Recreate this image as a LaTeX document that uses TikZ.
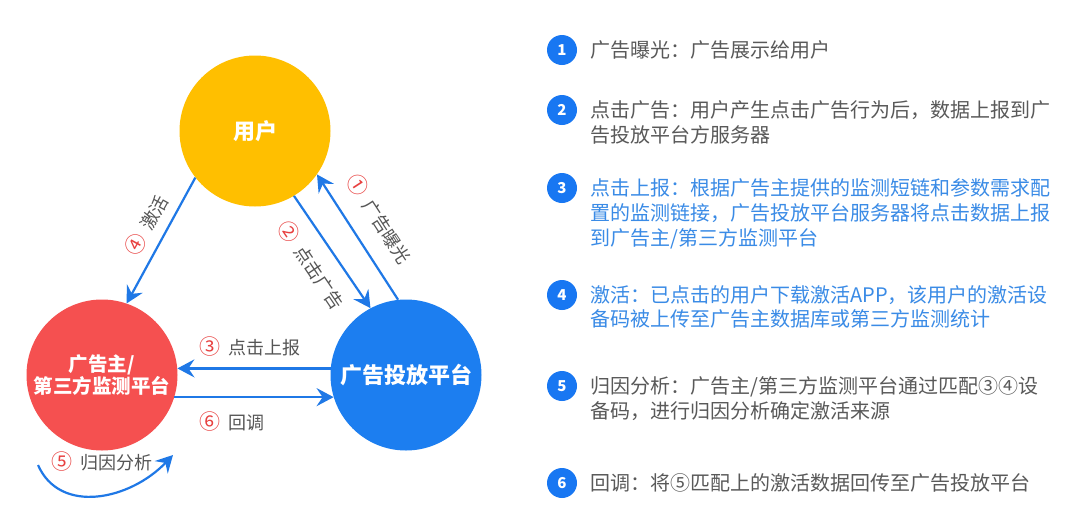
\documentclass[tikz,border=0pt]{standalone}
\usepackage{fontspec}
\setmainfont{Noto Sans CJK SC}
\usetikzlibrary{arrows.meta}
\definecolor{userc}{HTML}{FFBF00}
\definecolor{redc}{HTML}{F55050}
\definecolor{bluec}{HTML}{1C7EF0}
\definecolor{arrowc}{HTML}{1F78E6}
\definecolor{numred}{HTML}{E8403F}
\definecolor{labelgray}{HTML}{555555}
\definecolor{textgray}{HTML}{595959}
\definecolor{textblue}{HTML}{3A8BE6}
\definecolor{badgec}{HTML}{1877F2}
\newcommand{\cnum}[1]{{\color{numred}\fontsize{21}{20}\selectfont #1}}
\begin{document}
\begin{tikzpicture}[x=1pt,y=-1pt,
  circ/.style={circle, minimum size=151pt, inner sep=0pt, text=white, align=center},
  arr/.style={draw=arrowc, line width=2.2pt, -{Stealth[length=17pt,width=18pt,inset=6pt]}},
  lbl/.style={text=labelgray, font=\fontsize{18}{20}\selectfont, inner sep=0pt, text height=15pt, text depth=3pt},
  badge/.style={circle, fill=badgec, minimum size=30pt, inner sep=0pt, text=white, font=\fontsize{15}{15}\selectfont\bfseries},
  itemline/.style={anchor=west, inner sep=0pt, font=\fontsize{20}{24}\selectfont, text height=17pt, text depth=3pt},
  graytext/.style={itemline, text=textgray},
  bluetext/.style={itemline, text=textblue},
]
\useasboundingbox[fill=white] (0,0) rectangle (1080,512);

% main nodes
\node[circ, fill=userc, font=\fontsize{22}{26}\selectfont\bfseries] (user) at (255,131) {用户};
\node[circ, fill=redc, font=\fontsize{19.5}{21.5}\selectfont\bfseries] (adv) at (102,375) {广告主/\\第三方监测平台};
\node[circ, fill=bluec, font=\fontsize{22}{26}\selectfont\bfseries] (plat) at (406,375) {广告投放平台};

% connectors
\draw[arr] (user.218) -- (adv.71);
\draw[arr] (user.301) -- (plat.118);
\draw[arr] (plat.96) -- (user.325);
\draw[arr] (plat.175) -- (adv.5);
\draw[arr] (adv.-17) -- (plat.197);
\coordinate (loopA) at (38,465);
\coordinate (loopB) at (173,455);
\draw[arr] (loopA) .. controls (60,515) and (130,500) .. (loopB);

% connector labels
\node[lbl, rotate=61] (l4) at (148,226) {\cnum{④}\hspace{8pt}激活};
\node[lbl, rotate=-56] (l2) at (310,266) {\cnum{②}\hspace{8pt}点击广告};
\node[lbl, rotate=-57] (l1) at (378,220) {\cnum{①}\hspace{8pt}广告曝光};
\node[lbl, anchor=west] (l3) at (199,348) {\cnum{③}\hspace{8pt}点击上报};
\node[lbl, anchor=west] (l6) at (199,423) {\cnum{⑥}\hspace{8pt}回调};
\node[lbl, anchor=west] (l5) at (51,463) {\cnum{⑤}\hspace{8pt}归因分析};

% legend
\node[badge] (b1) at (562,50) {1};
\node[badge] (b2) at (562,110) {2};
\node[badge] (b3) at (562,188) {3};
\node[badge] (b4) at (562,295) {4};
\node[badge] (b5) at (562,386) {5};
\node[badge] (b6) at (562,483) {6};

\node[graytext] (t1) at (590,50) {广告曝光：广告展示给用户};
\node[graytext] (t2a) at (590,110) {点击广告：用户产生点击广告行为后，数据上报到广};
\node[graytext] (t2b) at (590,135) {告投放平台方服务器};
\node[bluetext] (t3a) at (590,188) {点击上报：根据广告主提供的监测短链和参数需求配};
\node[bluetext] (t3b) at (590,213) {置的监测链接，广告投放平台服务器将点击数据上报};
\node[bluetext] (t3c) at (590,238) {到广告主/第三方监测平台};
\node[bluetext] (t4a) at (590,295) {激活：已点击的用户下载激活APP，该用户的激活设};
\node[bluetext] (t4b) at (590,319) {备码被上传至广告主数据库或第三方监测统计};
\node[graytext] (t5a) at (590,386) {归因分析：广告主/第三方监测平台通过匹配③④设};
\node[graytext] (t5b) at (590,411) {备码，进行归因分析确定激活来源};
\node[graytext] (t6) at (590,483) {回调：将⑤匹配上的激活数据回传至广告投放平台};
\end{tikzpicture}
\end{document}
